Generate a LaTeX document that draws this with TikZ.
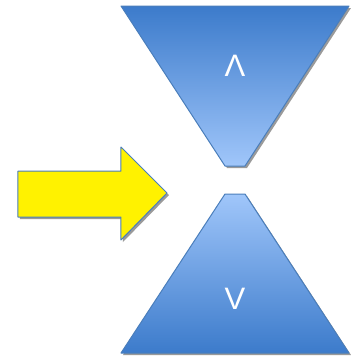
\documentclass[tikz,border=0pt]{standalone}
\usepackage{fontspec}
\setmainfont{Liberation Sans}
\begin{document}
\definecolor{edgeblue}{HTML}{4A7EBB}
\definecolor{darkblue}{HTML}{3C7BCB}
\definecolor{lightblue}{HTML}{A0C6FA}
\definecolor{shadowgray}{HTML}{9A9A9A}
\begin{tikzpicture}[x=1pt,y=-1pt,
  shapeedge/.style={draw=edgeblue,line width=1pt,line join=round},
  shadowfill/.style={fill=shadowgray,draw=none},
  symtext/.style={text=white,font=\fontsize{31}{31}\selectfont,inner sep=0pt}]
\useasboundingbox (0,0) rectangle (360,359);
% shadows
\fill[shadowgray] (123,8) -- (351,8) -- (247,168) -- (227,168) -- cycle;
\fill[shadowgray] (227,196) -- (247,196) -- (351,355) -- (123,355) -- cycle;
\fill[shadowgray] (20,173) -- (123,173) -- (123,149) -- (169,195) -- (123,242) -- (123,219) -- (20,219) -- cycle;
% top trapezoid
\shade[top color=darkblue,bottom color=lightblue,shapeedge]
  (121,6) -- (349,6) -- (245,166) -- (225,166) -- cycle;
% bottom trapezoid
\shade[top color=lightblue,bottom color=darkblue,shapeedge]
  (225,194) -- (245,194) -- (349,353) -- (121,353) -- cycle;
% arrow
\filldraw[fill=yellow,draw=edgeblue,line width=1pt,line join=round]
  (18,171) -- (121,171) -- (121,147) -- (167,193) -- (121,240) -- (121,217) -- (18,217) -- cycle;
\node[symtext] (up) at (235,66) {Λ};
\node[symtext] (down) at (235,299) {V};
\end{tikzpicture}
\end{document}
